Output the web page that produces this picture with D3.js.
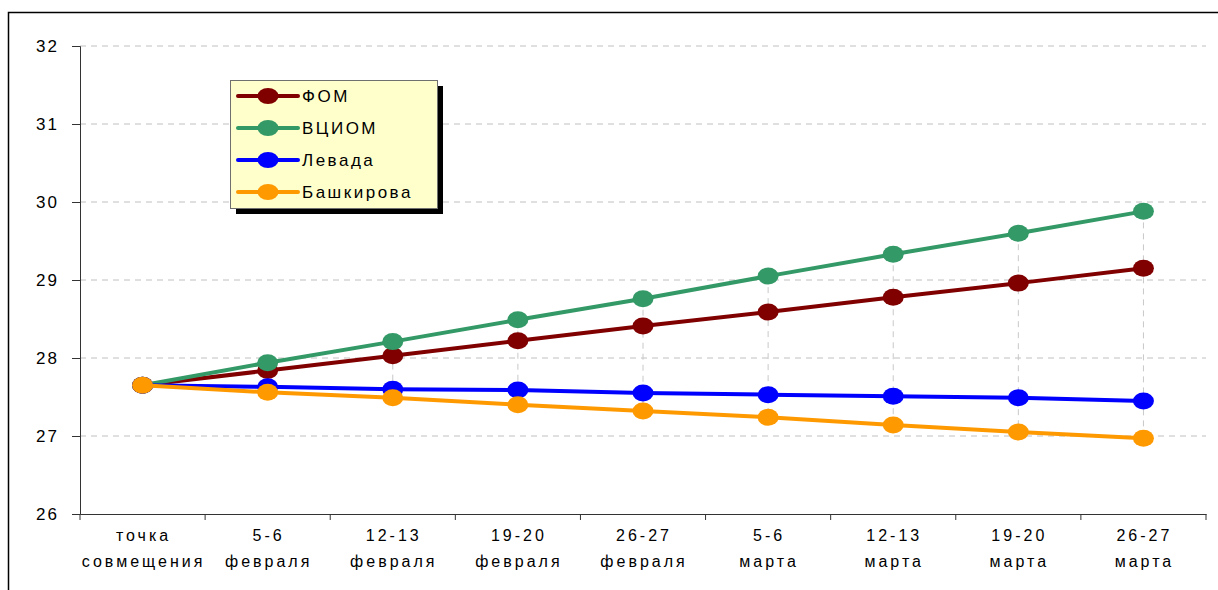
<!DOCTYPE html>
<html>
<head>
<meta charset="utf-8">
<script src="https://cdn.jsdelivr.net/npm/d3@7"></script>
<style>
  body { margin: 0; background: #fff; }
  svg { display: block; font-family: "Liberation Sans", Arial, sans-serif; }
  .grid line { stroke: #c0c0c0; stroke-dasharray: 6,5; }
  .hilo { stroke: #c8c8c8; stroke-dasharray: 6,5; }
</style>
</head>
<body>
<svg id="chart" width="1218" height="590"></svg>
<script>
// categories (two-line labels)
var categories = [
  ["точка", "совмещения"], ["5-6", "февраля"], ["12-13", "февраля"],
  ["19-20", "февраля"], ["26-27", "февраля"], ["5-6", "марта"],
  ["12-13", "марта"], ["19-20", "марта"], ["26-27", "марта"]
];
var yTicks = [26, 27, 28, 29, 30, 31, 32];

var fom     = [27.65, 27.84, 28.03, 28.22, 28.41, 28.59, 28.78, 28.96, 29.15];
var vciom   = [27.65, 27.94, 28.21, 28.49, 28.76, 29.05, 29.33, 29.60, 29.88];
var levada  = [27.65, 27.63, 27.60, 27.59, 27.55, 27.53, 27.51, 27.49, 27.45];
var bashkir = [27.65, 27.56, 27.49, 27.40, 27.32, 27.24, 27.14, 27.05, 26.97];

var seriesNames = ["ФОМ", "ВЦИОМ", "Левада", "Башкирова"];
var seriesColors = ["#800000", "#339966", "#0000ff", "#ff9900"];
var seriesValues = [fom, vciom, levada, bashkir];

var svg = d3.select("#chart");
var mLeft = 80, mRight = 1206, mTop = 46, mBottom = 514;

var x = d3.scaleBand().domain(d3.range(categories.length)).range([mLeft, mRight]);
var y = d3.scaleLinear().domain([26, 32]).range([mBottom, mTop]);
var cx = function(i) { return x(i) + x.bandwidth() / 2; };

// outer frame (cut off at right and bottom)
svg.append("path")
  .attr("d", "M8.5,590 L8.5,12.5 L1218,12.5")
  .attr("fill", "none").attr("stroke", "#000").attr("stroke-width", 1.5);

// grid
svg.append("g").attr("class", "grid")
  .selectAll("line").data(yTicks.filter(function(t) { return t > 26; }))
  .join("line")
  .attr("x1", mLeft).attr("x2", mRight)
  .attr("y1", function(d) { return y(d); }).attr("y2", function(d) { return y(d); });

// high-low lines
svg.append("g").selectAll("line").data(categories).join("line")
  .attr("class", "hilo")
  .attr("x1", function(d, i) { return cx(i); }).attr("x2", function(d, i) { return cx(i); })
  .attr("y1", function(d, i) { return y(d3.max(seriesValues, function(s) { return s[i]; })); })
  .attr("y2", function(d, i) { return y(d3.min(seriesValues, function(s) { return s[i]; })); });

// y axis
var yAxis = svg.append("g").attr("transform", "translate(" + mLeft + ",0)")
  .call(d3.axisLeft(y).tickValues(yTicks).tickSize(8).tickPadding(15).tickFormat(d3.format("d")));
yAxis.select(".domain").attr("stroke", "#333");
yAxis.selectAll(".tick line").attr("stroke", "#333");
yAxis.selectAll("text").attr("font-size", 17).attr("fill", "#000")
  .attr("font-family", "Liberation Sans, Arial, sans-serif")
  .attr("letter-spacing", 2).attr("dx", 2);

// x axis
var xAxis = svg.append("g").attr("transform", "translate(0," + mBottom + ")")
  .call(d3.axisBottom(x).tickSize(0).tickFormat(""));
xAxis.select(".domain").attr("stroke", "#333");
xAxis.selectAll(".tick").remove();
xAxis.selectAll(".bt").data(d3.range(categories.length + 1)).join("line")
  .attr("stroke", "#333")
  .attr("x1", function(i) { return mLeft + i * x.step(); })
  .attr("x2", function(i) { return mLeft + i * x.step(); })
  .attr("y1", 0).attr("y2", 6);
var lbl = svg.append("g").selectAll("text").data(categories).join("text")
  .attr("text-anchor", "middle").attr("font-size", 16).attr("letter-spacing", 3)
  .attr("fill", "#000");
lbl.append("tspan").attr("x", function(d, i) { return cx(i) + 1; }).attr("y", 541)
  .text(function(d) { return d[0]; });
lbl.append("tspan").attr("x", function(d, i) { return cx(i) + 1; }).attr("y", 567)
  .text(function(d) { return d[1]; });

// series
var line = d3.line().x(function(d, i) { return cx(i); }).y(function(d) { return y(d); });
seriesValues.forEach(function(vals, k) {
  var g = svg.append("g");
  g.append("path").datum(vals).attr("d", line)
    .attr("fill", "none").attr("stroke", seriesColors[k]).attr("stroke-width", 4);
  g.selectAll("ellipse").data(vals).join("ellipse")
    .attr("cx", function(d, i) { return cx(i); }).attr("cy", function(d) { return y(d); })
    .attr("rx", 10.5).attr("ry", 8.5).attr("fill", seriesColors[k]);
});

// legend
var lg = svg.append("g").attr("transform", "translate(230,80)");
lg.append("rect").attr("x", 6).attr("y", 6).attr("width", 207).attr("height", 128).attr("fill", "#000");
lg.append("rect").attr("x", 0.5).attr("y", 0.5).attr("width", 207).attr("height", 128)
  .attr("fill", "#ffffcc").attr("stroke", "#707070");
seriesNames.forEach(function(name, k) {
  var ry = 16 + k * 32;
  lg.append("line").attr("x1", 8).attr("x2", 68).attr("y1", ry).attr("y2", ry)
    .attr("stroke", seriesColors[k]).attr("stroke-width", 4).attr("stroke-linecap", "round");
  lg.append("ellipse").attr("cx", 38).attr("cy", ry).attr("rx", 10.5).attr("ry", 8)
    .attr("fill", seriesColors[k]);
  lg.append("text").attr("x", 72).attr("y", ry + 6).attr("font-size", 17)
    .attr("letter-spacing", 2.5).text(name);
});
</script>
</body>
</html>
